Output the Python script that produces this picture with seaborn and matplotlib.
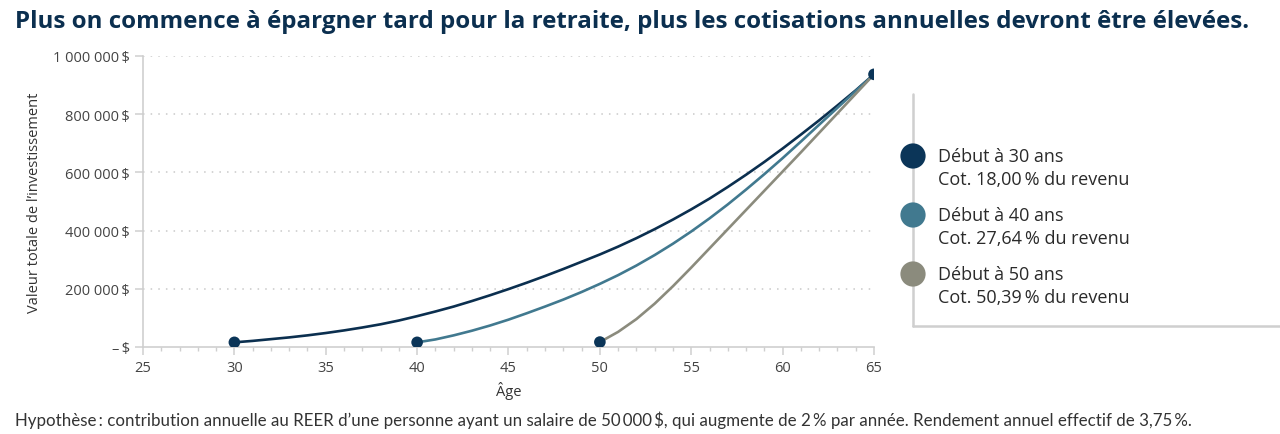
import numpy as np
import pandas as pd
import matplotlib.pyplot as plt
import seaborn as sns
from matplotlib.ticker import FuncFormatter, MultipleLocator

# Values (investment value in $ by age)
ages_30 = list(range(30, 66))
values_30 = [16000, 21000, 27000, 33000, 40000, 48000, 57000, 67000, 78000, 91000,
             106000, 122000, 139000, 158000, 178000, 199000, 221000, 244000, 268000, 293000,
             318000, 345000, 374000, 405000, 438000, 473000, 510000, 550000, 592000, 636000,
             682000, 730000, 779000, 830000, 882000, 937000]

ages_40 = list(range(40, 66))
values_40 = [16000, 26000, 40000, 56000, 74000, 94000, 116000, 139000, 163000, 189000,
             217000, 247000, 280000, 316000, 355000, 397000, 442000, 490000, 541000, 594000,
             649000, 706000, 764000, 822000, 880000, 937000]

ages_50 = list(range(50, 66))
values_50 = [17000, 52000, 96000, 149000, 209000, 273000, 339000, 405000, 471000, 537000,
             603000, 669000, 736000, 803000, 870000, 937000]

series_names = ["Début à 30 ans", "Début à 40 ans", "Début à 50 ans"]
contrib_labels = ["Cot. 18,00\u2009% du revenu", "Cot. 27,64\u2009% du revenu", "Cot. 50,39\u2009% du revenu"]
line_colors = ["#0b2f4f", "#41798f", "#8b8b7d"]
dot_color = "#0b3558"

title = "Plus on commence à épargner tard pour la retraite, plus les cotisations annuelles devront être élevées."
footnote = ("Hypothèse\u2009: contribution annuelle au REER d\u2019une personne ayant un salaire de 50\u2009000\u2009$, "
            "qui augmente de 2\u2009% par année. Rendement annuel effectif de 3,75\u2009%.")

frames = []
for name, ages, vals in zip(series_names, [ages_30, ages_40, ages_50], [values_30, values_40, values_50]):
    frames.append(pd.DataFrame({"age": ages, "valeur": vals, "serie": name}))
df = pd.concat(frames, ignore_index=True)

starts = df.groupby("serie", sort=False).first().reset_index()
end = df.tail(1)

sns.set_theme(style="white")
plt.rcParams["font.family"] = ["Open Sans", "DejaVu Sans"]

fig = plt.figure(figsize=(12.8, 4.35), dpi=100)
ax = fig.add_axes([143 / 1280, 1 - 348 / 435, (874 - 143) / 1280, (348 - 57) / 435])

sns.lineplot(data=df, x="age", y="valeur", hue="serie", palette=line_colors,
             linewidth=1.9, legend=False, ax=ax, zorder=3)
sns.scatterplot(data=starts, x="age", y="valeur", color=dot_color, s=70,
                edgecolor="none", legend=False, ax=ax, zorder=4)
sns.scatterplot(data=end, x="age", y="valeur", color=dot_color, s=70,
                edgecolor="none", legend=False, ax=ax, zorder=5)

ax.set_xlim(25, 65)
ax.set_ylim(0, 1000000)
ax.xaxis.set_major_locator(MultipleLocator(5))
ax.xaxis.set_minor_locator(MultipleLocator(1))
ax.yaxis.set_major_locator(MultipleLocator(200000))


def dollars(v, pos):
    if v == 0:
        return "\u2013\u2009$"
    return f"{int(v):,}".replace(",", " ") + "\u2009$"


ax.yaxis.set_major_formatter(FuncFormatter(dollars))

for y in range(200000, 1000001, 200000):
    ax.axhline(y, color="#c9c9c9", linestyle=(0, (1, 4)), linewidth=1.1, zorder=1)

for side in ["top", "right"]:
    ax.spines[side].set_visible(False)
for side in ["left", "bottom"]:
    ax.spines[side].set_color("#cfcfcf")
    ax.spines[side].set_linewidth(1.2)

ax.tick_params(axis="both", which="major", colors="#cfcfcf", labelcolor="#444444",
               labelsize=10.5, length=6, width=1.1, direction="out", bottom=True, left=True)
ax.tick_params(axis="x", which="minor", colors="#cfcfcf", length=3, width=1, bottom=True)

ax.set_xlabel("Âge", fontsize=10.5, color="#333333", labelpad=4)
ax.set_ylabel("Valeur totale de l\u2019investissement", fontsize=10.5, color="#333333", labelpad=8)

fig.text(15 / 1280, 1 - 22 / 435, title, fontsize=17.4, fontweight="bold", color="#0b2f4f",
         va="center", ha="left")
fig.text(15 / 1280, 1 - 420 / 435, footnote, fontsize=12.2, color="#333333", va="center", ha="left",
         family=["Lato", "DejaVu Sans"])

# Custom legend panel on the right
leg = fig.add_axes([0, 0, 1, 1], facecolor="none")
leg.set_xlim(0, 1280)
leg.set_ylim(435, 0)
leg.axis("off")
leg.plot([913, 913], [95, 327], color="#cfcfcf", linewidth=1.8, zorder=1)
leg.plot([913, 1280], [327, 327], color="#cfcfcf", linewidth=1.8, zorder=1)
for i, (name, cot, col) in enumerate(zip(series_names, contrib_labels, line_colors)):
    yc = 157 + i * 59
    leg.scatter([913], [yc], s=330, color=col if i else dot_color, edgecolor="none", zorder=2)
    leg.text(938, yc, name, fontsize=13, color="#2a2a2a", va="center", ha="left")
    leg.text(938, yc + 23, cot, fontsize=13, color="#2a2a2a", va="center", ha="left")

fig.savefig("out.png", dpi=100)
